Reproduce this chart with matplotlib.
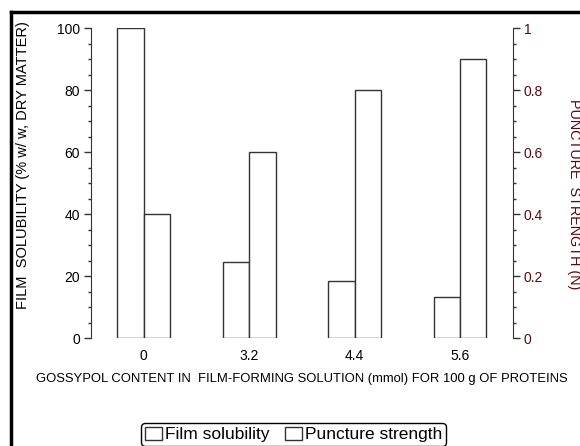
import matplotlib
matplotlib.use('Agg')
import matplotlib.pyplot as plt
import numpy as np
from matplotlib.lines import Line2D
from matplotlib.ticker import MultipleLocator

plt.rcParams['font.family'] = ['Liberation Sans', 'DejaVu Sans']

# Data
gossypol = ['0', '3.2', '4.4', '5.6']
film_solubility = [100, 24.5, 18.3, 13.3]
puncture_strength = [0.4, 0.6, 0.8, 0.9]

dark_red = '#5a0a0a'
edge = '#333333'

x = np.arange(len(gossypol))
width = 0.25

fig = plt.figure(figsize=(5.8, 4.46), dpi=100)
ax1 = fig.add_axes([0.157, 0.242, 0.727, 0.695])
ax2 = ax1.twinx()

b1 = ax1.bar(x - width/2, film_solubility, width, color='white', edgecolor=edge,
             linewidth=1, label='Film solubility')
b2 = ax2.bar(x + width/2, puncture_strength, width, color='white', edgecolor=edge,
             linewidth=1, label='Puncture strength')

ax1.set_xlim(-0.5, 3.5)
ax1.set_ylim(0, 100)
ax2.set_ylim(0, 1)

for ax in (ax1, ax2):
    for s in ['top', 'bottom']:
        ax.spines[s].set_visible(False)
ax1.spines['right'].set_visible(False)
ax2.spines['left'].set_visible(False)
ax1.spines['left'].set_color(edge)
ax2.spines['right'].set_color(edge)

ax1.yaxis.set_major_locator(MultipleLocator(20))
ax1.yaxis.set_minor_locator(MultipleLocator(5))
ax2.yaxis.set_minor_locator(MultipleLocator(0.05))
ax2.set_yticks([0, 0.2, 0.4, 0.6, 0.8, 1.0])
ax2.set_yticklabels(['0', '0.2', '0.4', '0.6', '0.8', '1'])

ax1.tick_params(axis='y', which='major', length=5, width=1, color=edge, labelsize=10, pad=3)
ax1.tick_params(axis='y', which='minor', length=2.5, width=1, color=edge)
ax2.tick_params(axis='y', which='major', length=5, width=1, color=edge, labelsize=10,
                labelcolor=dark_red, pad=3)
ax2.tick_params(axis='y', which='minor', length=2.5, width=1, color=edge)

ax1.set_xticks(x)
ax1.set_xticklabels(gossypol)
ax1.tick_params(axis='x', length=0, labelsize=10, pad=8)

ax1.set_xlabel('GOSSYPOL CONTENT IN  FILM-FORMING SOLUTION (mmol) FOR 100 g OF PROTEINS',
               fontsize=9.4, labelpad=7)
fig.text(0.040, 0.631, 'FILM  SOLUBILITY (% w/ w, DRY MATTER)', rotation=90,
         ha='center', va='center', fontsize=10.5)
fig.text(0.99, 0.565, 'PUNCTURE  STRENGTH (N)', rotation=-90, ha='center', va='center',
         fontsize=10.4, color=dark_red)

fig.legend([b1, b2], ['Film solubility', 'Puncture strength'], loc='upper center',
           bbox_to_anchor=(0.506, 0.051), ncol=2, fontsize=12.5, frameon=True,
           fancybox=True, edgecolor='black', framealpha=1, handlelength=1.0,
           handleheight=0.8, handletextpad=0.15, columnspacing=0.9, borderpad=0.2,
           borderaxespad=0)

# figure border (top and left only)
fig.add_artist(Line2D([0.019, 1.0], [0.974, 0.974], color='black', linewidth=2.5,
                      transform=fig.transFigure))
fig.add_artist(Line2D([0.019, 0.019], [0.0, 0.974], color='black', linewidth=2.5,
                      transform=fig.transFigure))

fig.savefig('out.png', dpi=100)
